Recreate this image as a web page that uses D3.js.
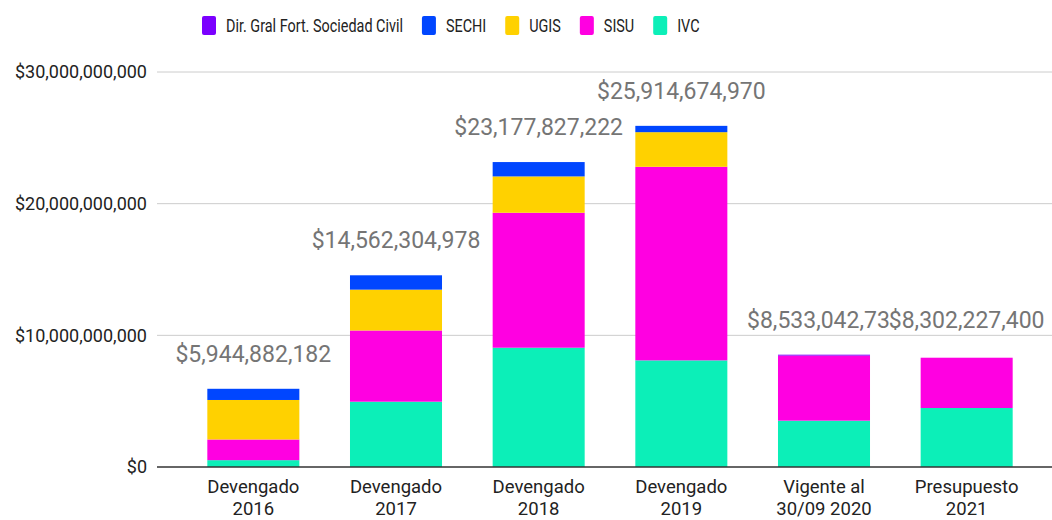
<!DOCTYPE html>
<html>
<head>
<meta charset="utf-8">
<script src="https://cdn.jsdelivr.net/npm/d3@7"></script>
<style>
  body { margin: 0; background: #fff; }
  svg { font-family: Roboto, "Noto Sans", sans-serif; }
</style>
</head>
<body>
<svg id="chart" width="1052" height="520"></svg>
<script>
// categories (two-line tick labels)
const categories = [
  ["Devengado", "2016"],
  ["Devengado", "2017"],
  ["Devengado", "2018"],
  ["Devengado", "2019"],
  ["Vigente al", "30/09 2020"],
  ["Presupuesto", "2021"],
];
// series values, in pesos
const ivc   = [0.52e9, 4.96e9, 9.06e9, 8.10e9, 3.52e9, 4.48e9];
const sisu  = [1.57e9, 5.41e9, 10.25e9, 14.70e9, 4.94e9, 3.82e9];
const ugis  = [3.00e9, 3.10e9, 2.76e9, 2.63e9, 0, 0];
const sechi = [0.85e9, 1.09e9, 1.09e9, 0.48e9, 0, 0];
const dir   = [0, 0, 0, 0, 0.07e9, 0];
// total labels as printed on the chart
const totalLabels = [
  "$5,944,882,182",
  "$14,562,304,978",
  "$23,177,827,222",
  "$25,914,674,970",
  "$8,533,042,73",
  "$8,302,227,400",
];
const yTicks = [0, 10e9, 20e9, 30e9];

const seriesNames = ["IVC", "SISU", "UGIS", "SECHI", "Dir. Gral Fort. Sociedad Civil"];
const seriesValues = [ivc, sisu, ugis, sechi, dir];
const colors = ["#0cefb8", "#ff00e1", "#ffd100", "#0046ff", "#7b00ff"];
const legendOrder = [4, 3, 2, 1, 0];

const svg = d3.select("#chart");

// table for the stack
const table = categories.map((c, i) => {
  const row = { idx: i };
  seriesNames.forEach((s, k) => (row[s] = seriesValues[k][i]));
  return row;
});
const stacked = d3.stack().keys(seriesNames)(table);

const xScale = d3.scaleBand()
  .domain(d3.range(categories.length))
  .range([182, 1038])
  .paddingInner(0.355)
  .paddingOuter(0.1775);

const yScale = d3.scaleLinear().domain([0, 30e9]).range([467, 72]);

// gridlines
svg.append("g")
  .selectAll("line")
  .data(yTicks.slice(1))
  .join("line")
  .attr("x1", 157).attr("x2", 1052)
  .attr("y1", (d) => yScale(d)).attr("y2", (d) => yScale(d))
  .attr("stroke", "#cccccc").attr("stroke-width", 1);

// y labels
const fmt = d3.format("$,");
svg.append("g")
  .selectAll("text")
  .data(yTicks)
  .join("text")
  .attr("x", 147)
  .attr("y", (d) => yScale(d))
  .attr("dy", "0.36em")
  .attr("text-anchor", "end")
  .attr("font-size", 18)
  .attr("fill", "#222")
  .text((d) => fmt(d));

// bars
svg.append("g")
  .selectAll("g")
  .data(stacked)
  .join("g")
  .attr("fill", (d, i) => colors[i])
  .selectAll("rect")
  .data((d) => d)
  .join("rect")
  .attr("x", (d) => xScale(d.data.idx))
  .attr("width", xScale.bandwidth())
  .attr("y", (d) => yScale(d[1]))
  .attr("height", (d) => yScale(d[0]) - yScale(d[1]));

// baseline
svg.append("line")
  .attr("x1", 157).attr("x2", 1052)
  .attr("y1", yScale(0)).attr("y2", yScale(0))
  .attr("stroke", "#333").attr("stroke-width", 1.5);

// totals
const totals = table.map((r) => d3.sum(seriesNames, (s) => r[s]));
const totG = svg.append("g");
totalLabels.forEach((t, i) => {
  const cx = xScale(i) + xScale.bandwidth() / 2;
  const txt = totG.append("text")
    .attr("y", i === 5 ? yScale(totals[4]) - 27 : yScale(totals[i]) - 27)
    .attr("font-size", 23)
    .attr("fill", "#757575")
    .text(t);
  if (i === 4) {
    // truncated label: keep the left edge of a full-width label
    txt.attr("x", cx - 77).attr("text-anchor", "start");
  } else {
    txt.attr("x", cx).attr("text-anchor", "middle");
  }
});

// x labels
const xg = svg.append("g");
categories.forEach((c, i) => {
  const cx = xScale(i) + xScale.bandwidth() / 2;
  const t = xg.append("text")
    .attr("text-anchor", "middle")
    .attr("font-size", 18.5)
    .attr("fill", "#222");
  t.append("tspan").attr("x", cx).attr("y", 493).text(c[0]);
  t.append("tspan").attr("x", cx).attr("y", 515).text(c[1]);
});

// legend (text is drawn narrower, as in the reference)
const lg = svg.append("g");
let lx = 202;
legendOrder.forEach((k) => {
  lg.append("rect")
    .attr("x", lx).attr("y", 16)
    .attr("width", 14).attr("height", 19)
    .attr("rx", 2)
    .attr("fill", colors[k]);
  const t = lg.append("text")
    .attr("x", lx + 24).attr("y", 26)
    .attr("dy", "0.36em")
    .attr("font-size", 18)
    .attr("fill", "#222")
    .text(seriesNames[k]);
  const w = t.node().getComputedTextLength() * 0.8;
  t.attr("textLength", w).attr("lengthAdjust", "spacingAndGlyphs");
  lx += 24 + w + 19;
});
</script>
</body>
</html>
